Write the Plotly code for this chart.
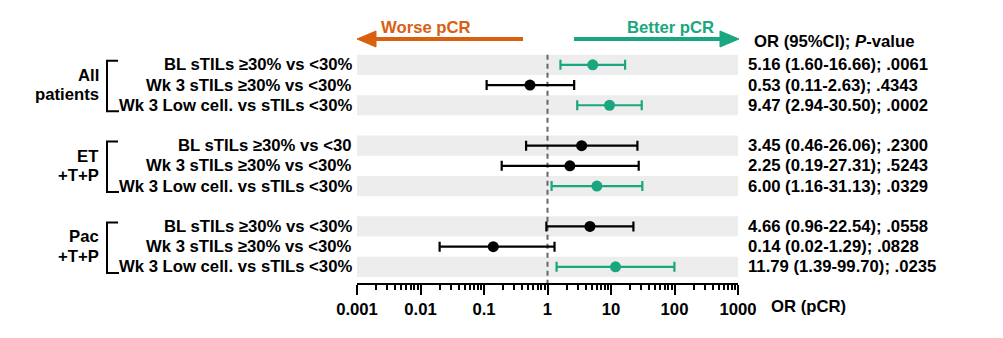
import plotly.graph_objects as go

# ---------------- data ----------------
groups = [["All", "patients"], ["ET", "+T+P"], ["Pac", "+T+P"]]
comparisons = [
    "BL sTILs ≥30% vs <30%", "Wk 3 sTILs ≥30% vs <30%", "Wk 3 Low cell. vs sTILs <30%",
    "BL sTILs ≥30% vs <30", "Wk 3 sTILs ≥30% vs <30%", "Wk 3 Low cell. vs sTILs <30%",
    "BL sTILs ≥30% vs <30%", "Wk 3 sTILs ≥30% vs <30%", "Wk 3 Low cell. vs sTILs <30%",
]
or_vals = [5.16, 0.53, 9.47, 3.45, 2.25, 6.00, 4.66, 0.14, 11.79]
ci_low = [1.60, 0.11, 2.94, 0.46, 0.19, 1.16, 0.96, 0.02, 1.39]
ci_high = [16.66, 2.63, 30.50, 26.06, 27.31, 31.13, 22.54, 1.29, 99.70]
p_vals = [".0061", ".4343", ".0002", ".2300", ".5243", ".0329", ".0558", ".0828", ".0235"]
tick_vals = [0.001, 0.01, 0.1, 1, 10, 100, 1000]
tick_text = ["0.001", "0.01", "0.1", "1", "10", "100", "1000"]

# ---------------- layout helpers ----------------
W, H = 1003, 338
L, R, T, B = 357, 265, 10, 55
PW = W - L - R
PH = H - T - B
row_pos = [0, 1, 2, 4, 5, 6, 8, 9, 10]
Y_BOTTOM = 10.8
UNIT = 20.2
Y_TOP = Y_BOTTOM - PH / UNIT

def px(x):
    return (x - L) / PW

def py(y):
    return (H - B - y) / PH

GREEN = "#1aa67f"
ORANGE = "#d9600f"
FONT = "Liberation Sans, Arial, sans-serif"
FS = 16.7

fig = go.Figure()

# dashed reference line at OR = 1
fig.add_trace(go.Scatter(x=[1, 1], y=[-0.5, Y_BOTTOM], mode="lines",
                         line=dict(color="#666666", width=2, dash="5px,4px"),
                         hoverinfo="skip", showlegend=False))

sig = [lo > 1 for lo in ci_low]
for flag, col in [(False, "black"), (True, GREEN)]:
    idx = [i for i in range(len(or_vals)) if sig[i] == flag]
    fig.add_trace(go.Scatter(
        x=[or_vals[i] for i in idx],
        y=[row_pos[i] for i in idx],
        mode="markers",
        marker=dict(color=col, size=11),
        error_x=dict(type="data", symmetric=False,
                     array=[ci_high[i] - or_vals[i] for i in idx],
                     arrayminus=[or_vals[i] - ci_low[i] for i in idx],
                     color=col, thickness=2.2, width=5),
        showlegend=False, hoverinfo="skip"))

shapes = []
annotations = []

# gray bands
for i, r in enumerate(row_pos):
    if i % 3 != 1:
        shapes.append(dict(type="rect", xref="paper", yref="y", x0=0, x1=1,
                           y0=r - 0.5, y1=r + 0.5, fillcolor="#ededed",
                           line=dict(width=0), layer="below"))

# row labels and OR text
for i, r in enumerate(row_pos):
    annotations.append(dict(xref="paper", yref="y", x=px(354), y=r,
                            xanchor="right", yanchor="middle", showarrow=False,
                            text="<b>" + comparisons[i].replace("<", "&lt;") + "</b>",
                            font=dict(family=FONT, size=FS, color="black")))
    txt = f"{or_vals[i]:.2f} ({ci_low[i]:.2f}-{ci_high[i]:.2f}); {p_vals[i]}"
    annotations.append(dict(xref="paper", yref="y", x=px(746), y=r,
                            xanchor="left", yanchor="middle", showarrow=False,
                            text="<b>" + txt + "</b>",
                            font=dict(family=FONT, size=FS, color="black")))

# group labels and brackets
for g in range(3):
    r0 = row_pos[g * 3]
    r1 = row_pos[g * 3 + 2]
    mid = (r0 + r1) / 2
    for k, line_txt in enumerate(groups[g]):
        annotations.append(dict(xref="paper", yref="y", x=px(101), y=mid + (-0.48 if k == 0 else 0.48),
                                xanchor="right", yanchor="middle", showarrow=False,
                                text="<b>" + line_txt + "</b>",
                                font=dict(family=FONT, size=FS, color="black")))
    shapes.append(dict(type="path", xref="paper", yref="y",
                       path=f"M {px(118)} {r0 - 0.2} L {px(107)} {r0 - 0.2} L {px(107)} {r1 + 0.3} L {px(119)} {r1 + 0.3}",
                       line=dict(color="black", width=2)))

# direction arrows
ay = py(39)
shapes.append(dict(type="line", xref="paper", yref="paper", x0=px(372), x1=px(523), y0=ay, y1=ay,
                   line=dict(color=ORANGE, width=4)))
shapes.append(dict(type="path", xref="paper", yref="paper",
                   path=f"M {px(357)} {ay} L {px(376)} {py(31)} L {px(376)} {py(47)} Z",
                   fillcolor=ORANGE, line=dict(color=ORANGE, width=1)))
shapes.append(dict(type="line", xref="paper", yref="paper", x0=px(574), x1=px(722), y0=ay, y1=ay,
                   line=dict(color=GREEN, width=4)))
shapes.append(dict(type="path", xref="paper", yref="paper",
                   path=f"M {px(739)} {ay} L {px(720)} {py(31)} L {px(720)} {py(47)} Z",
                   fillcolor=GREEN, line=dict(color=GREEN, width=1)))
annotations.append(dict(xref="paper", yref="paper", x=px(426), y=py(28), xanchor="center", yanchor="middle",
                        showarrow=False, text="<b>Worse pCR</b>",
                        font=dict(family=FONT, size=FS, color=ORANGE)))
annotations.append(dict(xref="paper", yref="paper", x=px(670), y=py(28), xanchor="center", yanchor="middle",
                        showarrow=False, text="<b>Better pCR</b>",
                        font=dict(family=FONT, size=FS, color=GREEN)))
annotations.append(dict(xref="paper", yref="paper", x=px(752), y=py(41), xanchor="left", yanchor="middle",
                        showarrow=False, text="<b>OR (95%CI); <i>P</i>-value</b>",
                        font=dict(family=FONT, size=FS, color="black")))
annotations.append(dict(xref="paper", yref="paper", x=px(769), y=py(306), xanchor="left", yanchor="middle",
                        showarrow=False, text="<b>OR (pCR)</b>",
                        font=dict(family=FONT, size=FS, color="black")))

minor_vals = [m * 10 ** e for e in range(-3, 3) for m in range(2, 10)]

fig.update_layout(
    width=W, height=H,
    margin=dict(l=L, r=R, t=T, b=B, pad=0),
    paper_bgcolor="white", plot_bgcolor="white",
    shapes=shapes, annotations=annotations,
    xaxis=dict(type="log", range=[-3, 3], tickmode="array", tickvals=tick_vals,
               ticktext=["<b>" + t + "</b>" for t in tick_text],
               showgrid=False, zeroline=False, showline=True, linecolor="black", linewidth=2,
               ticks="outside", ticklen=10, tickwidth=2, tickcolor="black",
               tickfont=dict(family=FONT, size=FS, color="black"),
               minor=dict(tickmode="array", tickvals=minor_vals, ticks="outside", ticklen=5,
                          tickwidth=2, tickcolor="black", showgrid=False),
               fixedrange=True),
    yaxis=dict(range=[Y_BOTTOM, Y_TOP], visible=False, showgrid=False, zeroline=False, fixedrange=True),
)

fig.write_html("out.html")
